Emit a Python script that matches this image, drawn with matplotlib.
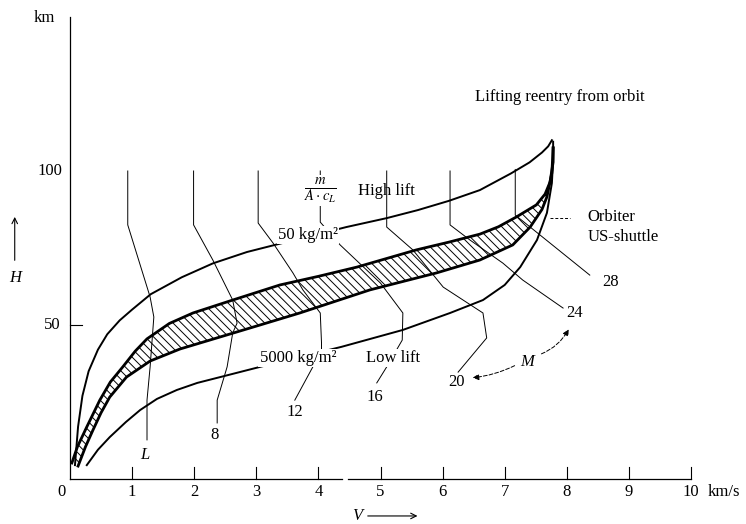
import matplotlib
matplotlib.use('Agg')
import matplotlib.pyplot as plt

plt.rcParams['font.family'] = ['Liberation Serif', 'DejaVu Serif']
plt.rcParams['mathtext.fontset'] = 'stix'
plt.rcParams['hatch.linewidth'] = 0.7

# ---- data: V in km/s, H in km ----
# upper boundary, m/(A cL) = 50 kg/m^2 (high lift)
v_high = [0.08, 0.13, 0.2, 0.3, 0.45, 0.6, 0.8, 1.0, 1.3, 1.8, 2.3, 2.85, 3.3, 3.9,
          4.45, 5.1, 5.6, 6.1, 6.6, 7.1, 7.4, 7.6, 7.7, 7.76]
h_high = [4.5, 17, 27, 35, 42, 47, 51.5, 55, 60, 65.5, 70, 73.7, 76, 79,
          81.8, 84.7, 87.3, 90.3, 93.8, 99.2, 102.8, 106, 108, 110]

# lower boundary, 5000 kg/m^2 (low lift)
v_low = [0.27, 0.45, 0.64, 0.9, 1.13, 1.4, 1.72, 2.05, 2.42, 3.06, 3.7, 4.37, 5.36,
         6.12, 6.65, 7.0, 7.25, 7.52, 7.68, 7.76, 7.78, 7.78]
h_low = [4.5, 9.5, 13.6, 18.5, 22.4, 26, 28.9, 31.2, 33.1, 36.4, 39.6, 42.9, 48.4,
         53.9, 58.1, 63, 68.8, 77.6, 86.4, 96.1, 104, 109.5]

# orbiter (US-shuttle) corridor, hatched band
v_band_top = [0.03, 0.12, 0.27, 0.48, 0.65, 0.85, 1.05, 1.24, 1.6, 1.98, 2.62, 3.38,
              4.0, 4.62, 5.58, 6.1, 6.6, 6.9, 7.19, 7.51, 7.65, 7.73, 7.78, 7.78]
h_band_top = [5.2, 10.5, 16.9, 25.6, 31.5, 36.4, 41.5, 45.5, 50.5, 53.9, 58.1, 63.0,
              65.8, 68.8, 74.4, 76.9, 79.5, 81.9, 85.1, 89.0, 92.5, 96.4, 102.9, 107.5]
v_band_bot = [0.13, 0.25, 0.37, 0.5, 0.64, 0.91, 1.29, 1.77, 2.25, 3.06, 3.7, 4.83,
              5.9, 6.6, 7.13, 7.41, 7.6, 7.68, 7.76, 7.78]
h_band_bot = [4.2, 10.5, 15.9, 21.5, 26.6, 33.1, 38.3, 42.2, 45.1, 50.0, 53.9, 61.4,
              66.9, 71.1, 76.0, 81.8, 87.5, 91.6, 99.4, 107.5]

# Mach number lines (M = L, 8, 12, 16, 20, 24, 28)
mach_labels = ['L', '8', '12', '16', '20', '24', '28']
mach_v = [
    [0.93, 0.93, 1.29, 1.35, 1.29, 1.24, 1.24],
    [1.99, 1.99, 2.30, 2.62, 2.69, 2.62, 2.53, 2.37, 2.37],
    [3.03, 3.03, 3.27, 3.59, 3.75, 4.03, 4.05, 4.05, 3.62],
    [4.03, 4.03, 4.35, 5.00, 5.36, 5.35, 5.10, 4.94],
    [5.10, 5.10, 5.52, 6.01, 6.65, 6.71, 6.25],
    [6.12, 6.12, 6.44, 6.97, 7.29, 7.94],
    [7.17, 7.17, 8.37],
]
mach_h = [
    [100, 82.5, 59.1, 52.6, 36.4, 25.6, 12.7],
    [100, 82.5, 71.1, 58.1, 50.6, 47.4, 36.4, 25.6, 18.2],
    [100, 83.1, 76.6, 66.9, 61.4, 53.9, 44.2, 41.6, 25.6],
    [100, 83.4, 76.0, 63.6, 53.9, 45.1, 36.4, 31.2],
    [100, 81.8, 74.4, 62.3, 53.9, 45.8, 34.7],
    [100, 82.5, 77.6, 70.1, 64.6, 55.5],
    [100.5, 85.7, 66.2],
]
mach_label_pos = [(1.21, 7.8), (2.33, 14.3), (3.62, 21.8), (4.91, 26.6),
                  (6.23, 31.5), (8.13, 53.9), (8.70, 64.0)]

x_ticks = [1, 2, 3, 4, 5, 6, 7, 8, 9, 10]
x_tick_labels = ['1', '2', '3', '4', '5', '6', '7', '8', '9', '10']

# ---- figure ----
fig = plt.figure(figsize=(7.46, 5.24), dpi=100)
ax = fig.add_axes([0, 0, 1, 1])
ax.set_xlim(-70 / 62.1, 676 / 62.1)
ax.set_ylim(-45 / 3.08, 479 / 3.08)
ax.axis('off')

# hatched corridor
ax.fill(v_band_top + v_band_bot[::-1], h_band_top + h_band_bot[::-1],
        facecolor='none', edgecolor='k', hatch='\\\\\\\\', linewidth=0)
ax.plot(v_band_top, h_band_top, 'k', lw=2.0)
ax.plot(v_band_bot, h_band_bot, 'k', lw=2.0)

# envelope curves
ax.plot(v_high, h_high, 'k', lw=1.4)
ax.plot(v_low, h_low, 'k', lw=1.4)

# Mach lines
for mv, mh in zip(mach_v, mach_h):
    ax.plot(mv, mh, 'k', lw=0.7)
for lab, (px, py) in zip(mach_labels, mach_label_pos):
    st = 'italic' if lab == 'L' else 'normal'
    ax.text(px, py, lab, ha='center', va='center', fontsize=12, style=st)

# axes lines and ticks
ax.plot([0, 0], [0, 150], 'k', lw=0.9)
ax.plot([0, 4.38], [0, 0], 'k', lw=0.9)
ax.plot([4.48, 10], [0, 0], 'k', lw=0.9)
for t in x_ticks:
    ax.plot([t, t], [0, 3.9], 'k', lw=0.8)
ax.plot([0, 0.19], [50, 50], 'k', lw=0.8)
for t, lab in zip(x_ticks, x_tick_labels):
    ax.text(t, -4.2, lab, ha='center', va='center', fontsize=12)
ax.text(10.26, -4.2, 'km/s', ha='left', va='center', fontsize=12)
ax.text(-0.13, -4.2, '0', ha='center', va='center', fontsize=12)
ax.text(-0.13, 100, '100', ha='right', va='center', fontsize=12)
ax.text(-0.16, 50, '50', ha='right', va='center', fontsize=12)
ax.text(-0.24, 149.7, 'km', ha='right', va='center', fontsize=12)

# axis names with arrows
ax.text(-0.89, 65.3, 'H', ha='center', va='center', fontsize=12, style='italic')
ax.annotate('', xy=(-0.89, 86), xytext=(-0.89, 70.1),
            arrowprops=dict(arrowstyle='->', lw=0.8, color='k'))
ax.text(4.62, -12.0, 'V', ha='center', va='center', fontsize=12, style='italic')
ax.annotate('', xy=(5.64, -12.0), xytext=(4.75, -12.0),
            arrowprops=dict(arrowstyle='->', lw=0.8, color='k'))

# annotations
ax.text(7.89, 124.0, 'Lifting reentry from orbit', ha='center', va='center', fontsize=12)
ax.text(4.03, 93.8, r'$\frac{m}{A\cdot c_L}$', ha='center', va='center', fontsize=15,
        bbox=dict(facecolor='white', edgecolor='none', pad=0.5))
ax.text(5.09, 93.5, 'High lift', ha='center', va='center', fontsize=12)
ax.text(3.83, 79.2, '50 kg/m²', ha='center', va='center', fontsize=12,
        bbox=dict(facecolor='white', edgecolor='none', pad=1))
ax.text(3.67, 39.3, '5000 kg/m²', ha='center', va='center', fontsize=12,
        bbox=dict(facecolor='white', edgecolor='none', pad=1))
ax.text(5.20, 39.3, 'Low lift', ha='center', va='center', fontsize=12,
        bbox=dict(facecolor='white', edgecolor='none', pad=0.5))
ax.plot([7.73, 8.05], [84.7, 84.7], 'k--', lw=0.7, dashes=(3, 2))
ax.text(8.33, 85.1, 'Orbiter', ha='left', va='center', fontsize=12)
ax.text(8.33, 78.6, 'US-shuttle', ha='left', va='center', fontsize=12)

ax.text(7.36, 38.0, 'M', ha='center', va='center', fontsize=12, style='italic')
ax.annotate('', xy=(6.44, 32.8), xytext=(7.2, 37.2),
            arrowprops=dict(arrowstyle='-|>', lw=0.7, color='k', ls=(0, (4, 2)),
                            mutation_scale=9, connectionstyle='arc3,rad=-0.1'))
ax.annotate('', xy=(8.05, 49.4), xytext=(7.55, 40.3),
            arrowprops=dict(arrowstyle='-|>', lw=0.7, color='k', ls=(0, (4, 2)),
                            mutation_scale=9, connectionstyle='arc3,rad=0.2'))

fig.savefig('out.png', dpi=100)
